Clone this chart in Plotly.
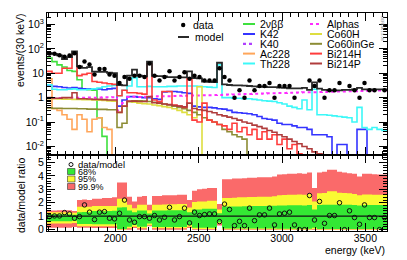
import plotly.graph_objects as go

# ---------------- binning ----------------
E_MIN = 1590
BIN_W = 30
N_BINS = 68
E_MAX = E_MIN + BIN_W * N_BINS
edges = [E_MIN + BIN_W * i for i in range(N_BINS + 1)]
centers = [E_MIN + BIN_W * (i + 0.5) for i in range(N_BINS)]

# ---------------- top panel: events / (30 keV) ----------------
model = [66, 62, 54, 38, 46, 78, 19, 16.5, 18, 11.6,
         11.5, 11.5, 10.5, 10, 3.3, 3.2, 8, 14, 8, 7.5,
         30, 7.8, 7.6, 7.4, 7.0, 7.0, 6.8, 6.8, 12, 6.3,
         6.2, 4.6, 4.4, 4.3, 27, 3.5, 3.3, 3.2, 3.2, 3.1,
         3.0, 2.9, 2.8, 2.8, 2.7, 2.7, 2.6, 2.5, 2.4, 2.4,
         2.4, 2.5, 2.1, 4.2, 2.35, 2.1, 2.0, 2.0, 2.0, 2.1,
         2.1, 2.2, 2.5, 2.2, 2.2, 2.2, 2.2, 2.2]

data = [64, 63, 55, 48, 54, 66, 18, 30, 23, 9,
        15, 15, 9, 8, 4, 7, 6, 8, 8, 7,
        25, 8, 5, 7, 12, 5, 7, 11, 6, 8,
        7, 5, 5, 5, 16, 7, 5, 1, 2, 1,
        5, 2, 3, 3, 4, 1, 3, 3, 3, 1,
        0, 0, 5, 3, 5, 1, 2, 2, 4, 0,
        3, 2, 1, 4, 2, 2, 0, 2]

nbb = [42, 30, 22, 18, 13, 12, 5.4, 2.2, 2.1, 2.0,
       0.15, 0.026, 0, 0, 0, 0, 0, 0, 0, 0,
       0, 0, 0, 0, 0, 0, 0, 0, 0, 0,
       0, 0, 0, 0, 0, 0, 0, 0, 0, 0,
       0, 0, 0, 0, 0, 0, 0, 0, 0, 0,
       0, 0, 0, 0, 0, 0, 0, 0, 0, 0,
       0, 0, 0, 0, 0, 0, 0, 0]

k42 = [3.0, 2.9, 2.8, 2.6, 2.5, 2.6, 2.4, 2.3, 2.3, 2.2,
       2.3, 2.1, 2.3, 2.4, 0.45, 0.8, 1.1, 1.1, 1.05, 1.0,
       1.0, 0.9, 0.85, 1.7, 1.8, 1.8, 1.7, 1.6, 1.5, 0.45,
       0.42, 0.4, 0.4, 0.38, 0.35, 0.34, 0.3, 0.25, 0.24, 0.23,
       0.22, 0.2, 0.17, 0.14, 0.13, 0.12, 0.09, 0.08, 0.08, 0.07,
       0.06, 0.06, 0.05, 0.03, 0.03, 0.03, 0.025, 0, 0.012, 0.012,
       0, 0, 0.05, 0.05, 0, 0, 0, 0]

k40 = [0.003, 0.002, 0.002, 0.001, 0, 0, 0, 0, 0, 0,
       0, 0, 0, 0, 0, 0, 0, 0, 0, 0,
       0, 0, 0, 0, 0, 0, 0, 0, 0, 0,
       0, 0, 0, 0, 0, 0, 0, 0, 0, 0,
       0, 0, 0, 0, 0, 0, 0, 0, 0, 0,
       0, 0, 0, 0, 0, 0, 0, 0, 0, 0,
       0, 0, 0, 0, 0, 0, 0, 0]

ac228 = [6, 0.35, 0.3, 0.2, 0.13, 0.05, 0.2, 0.13, 0.04, 0.13,
         0.15, 0.06, 0.05, 0, 0, 0, 0, 0, 0, 0,
         0, 0, 0, 0, 0, 0, 0, 0, 0, 0,
         0, 0, 0, 0, 0, 0, 0, 0, 0, 0,
         0, 0, 0, 0, 0, 0, 0, 0, 0, 0,
         0, 0, 0, 0, 0, 0, 0, 0, 0, 0,
         0, 0, 0, 0, 0, 0, 0, 0]

th228 = [3.4, 2.2, 2.1, 2.1, 2.2, 2.3, 2.1, 2.1, 2.2, 2.3,
         2.5, 2.8, 3.0, 3.2, 1.2, 2.0, 3.0, 6.5, 2.8, 2.8,
         2.9, 2.8, 2.8, 2.8, 2.9, 2.9, 3.0, 3.0, 3.0, 3.0,
         2.9, 2.8, 2.7, 2.6, 22, 1.0, 1.0, 0.95, 0.95, 0.9,
         0.9, 0.85, 0.8, 0.75, 0.72, 0.7, 0.62, 0.55, 0.45, 0.4,
         0.35, 0.8, 0.32, 2.2, 0.2, 0.2, 0.19, 0.18, 0.17, 0.16,
         0.15, 0.1, 0.4, 0.06, 0.05, 0.06, 0.05, 0.045]

alphas = [0.95, 0.94, 0.96, 0.97, 0.97, 0.99, 1.0, 0.99, 1.01, 1.0,
          1.02, 1.03, 1.03, 1.05, 0.3, 0.6, 1.06, 1.08, 1.07, 1.1,
          1.1, 1.12, 1.13, 1.15, 1.15, 1.17, 1.19, 1.2, 1.21, 1.22,
          1.24, 1.25, 1.27, 1.28, 1.3, 1.33, 1.34, 1.36, 1.37, 1.4,
          1.42, 1.44, 1.45, 1.48, 1.5, 1.52, 1.55, 1.56, 1.58, 1.6,
          1.62, 1.65, 1.66, 1.68, 1.7, 1.72, 1.75, 1.76, 1.78, 1.8,
          1.82, 1.84, 1.86, 1.88, 1.9, 1.92, 1.95, 1.96]

co60h = [0.9, 0.9, 0.88, 0.87, 0.86, 0.85, 0.84, 0.83, 0.82, 0.8,
         0.78, 0.76, 0.74, 0.72, 0.25, 0.45, 0.68, 0.65, 0.6, 0.57,
         0.55, 0.5, 0.47, 0.43, 0.4, 0.35, 0.3, 0.25, 0.2, 0.15,
         2.8, 0, 0, 0, 0, 0, 0, 0, 0, 0,
         0, 0, 0, 0, 0, 0, 0, 0, 0, 0,
         0, 0, 0, 0, 0, 0, 0, 0, 0, 0,
         0, 0, 0, 0, 0, 0, 0, 0]

co60ge = [0.38, 0.37, 0.37, 0.36, 0.36, 0.36, 0.35, 0.35, 0.34, 0.34,
          0.33, 0.33, 0.32, 0.32, 0.06, 0.09, 0.7, 0.75, 0.75, 0.72,
          0.7, 0.65, 0.6, 0.55, 0.5, 0.45, 0.4, 0.35, 0.3, 0.25,
          0.2, 0.15, 0.12, 0.1, 0.08, 0.05, 0.04, 0.03, 0.025, 0.02,
          0, 0, 0, 0, 0, 0, 0, 0, 0, 0,
          0, 0, 0, 0, 0, 0, 0, 0, 0, 0,
          0, 0, 0, 0, 0, 0, 0, 0]

bi214h = [12, 10, 10, 16, 16, 62, 8, 9, 10, 4.6,
          4.3, 4.0, 3.7, 3.5, 1.2, 2.0, 1.6, 1.6, 1.5, 1.4,
          24, 0.8, 0.7, 1.8, 1.8, 0.5, 0.45, 0.4, 6, 0.12,
          0.1, 0.6, 0.12, 0.1, 0.08, 0.07, 0.05, 0.09, 0.04, 0.06,
          0.03, 0.05, 0.02, 0.04, 0.02, 0.03, 0.012, 0.02, 0.008, 0.012,
          0.005, 0.003, 0, 0, 0, 0, 0, 0, 0, 0,
          0, 0, 0, 0, 0, 0, 0, 0]

bi214p = [1.0, 0.95, 0.95, 1.0, 1.0, 1.6, 0.9, 0.9, 0.88, 0.85,
          0.85, 0.83, 0.8, 0.8, 0.25, 0.45, 0.72, 0.72, 0.7, 0.7,
          1.1, 0.62, 0.6, 0.55, 0.52, 0.48, 0.45, 0.42, 0.6, 0.36,
          0.32, 0.3, 0.27, 0.24, 0.2, 0.18, 0.16, 0.14, 0.12, 0.1,
          0.09, 0.075, 0.065, 0.055, 0.045, 0.038, 0.03, 0.025, 0.02, 0.016,
          0.013, 0.01, 0.008, 0.006, 0.005, 0.004, 0.003, 0, 0, 0,
          0, 0, 0, 0, 0, 0, 0, 0]

# ---------------- bottom panel: data/model ratio ----------------
ratio = [0.97, 1.02, 1.02, 1.27, 1.17, 0.85, 0.97, 1.84, 1.3, 0.75,
         1.3, 1.34, 0.85, 0.8, 1.22, 2.2, 0.72, 0.55, 0.97, 0.97,
         0.85, 1.05, 0.72, 0.92, 1.66, 0.72, 0.97, 1.6, 0.5, 1.3,
         1.05, 1.12, 1.17, 1.17, 0.6, 1.9, 1.5, 0.3, 0.62, 0.3,
         1.6, 0.67, 1.1, 1.1, 1.6, 0.35, 1.17, 1.22, 1.3, 0.35,
         0, 0, 2.54, 0.72, 2.1, 0.47, 1.05, 1.05, 2.0, 0,
         1.4, 0.9, 0.4, 1.84, 0.9, 0.9, 0, 0.9]

g_hi = [1.14, 1.14, 1.15, 1.14, 1.14, 1.11, 1.3, 1.32, 1.3, 1.38,
        1.38, 1.37, 1.38, 1.4, 1.65, 1.66, 1.42, 1.3, 1.42, 1.43,
        1.2, 1.42, 1.43, 1.43, 1.44, 1.44, 1.45, 1.45, 1.3, 1.5,
        1.5, 1.55, 1.56, 1.56, 1.22, 1.72, 1.72, 1.73, 1.73, 1.74,
        1.74, 1.75, 1.76, 1.76, 1.77, 1.77, 1.8, 1.8, 1.81, 1.82,
        1.82, 1.8, 1.84, 1.5, 1.84, 1.85, 1.86, 1.86, 1.86, 1.85,
        1.85, 1.84, 1.8, 1.84, 1.84, 1.84, 1.84, 1.84]
g_lo = [0.62, 0.62, 0.62, 0.62, 0.62, 0.66, 0.42, 0.42, 0.42, 0.4,
        0.4, 0.4, 0.4, 0.4, 0.05, 0.05, 0.22, 0.35, 0.22, 0.22,
        0.45, 0.2, 0.2, 0.2, 0.2, 0.2, 0.2, 0.2, 0.35, 0.15,
        0.15, 0.15, 0.15, 0.15, 0.55, 0.08, 0.08, 0.08, 0.08, 0.08,
        0.08, 0.08, 0.08, 0.08, 0.08, 0.08, 0.06, 0.06, 0.06, 0.06,
        0.06, 0.06, 0.06, 0.15, 0.05, 0.05, 0.05, 0.05, 0.05, 0.05,
        0.05, 0.05, 0.05, 0.05, 0.05, 0.05, 0.05, 0.05]
y_hi = [1.3, 1.3, 1.3, 1.3, 1.3, 1.25, 1.7, 1.7, 1.7, 1.75,
        1.75, 1.75, 1.75, 1.75, 2.3, 2.3, 1.85, 1.6, 1.85, 1.85,
        1.45, 1.85, 1.86, 1.87, 1.88, 1.88, 1.9, 1.9, 1.65, 2.05,
        2.1, 2.1, 2.15, 2.15, 1.5, 2.35, 2.35, 2.38, 2.4, 2.4,
        2.42, 2.42, 2.45, 2.45, 2.45, 2.48, 2.55, 2.58, 2.6, 2.6,
        2.62, 2.6, 2.65, 2.1, 2.7, 2.72, 2.85, 2.85, 2.75, 2.72,
        2.7, 2.65, 2.55, 2.62, 2.62, 2.6, 2.6, 2.6]
y_lo = [0.45, 0.45, 0.45, 0.45, 0.45, 0.5, 0.25, 0.25, 0.25, 0.25,
        0.25, 0.25, 0.25, 0.25, 0.02, 0.02, 0.1, 0.22, 0.1, 0.1,
        0.32, 0.1, 0.1, 0.1, 0.1, 0.1, 0.1, 0.1, 0.22, 0.05,
        0.05, 0.05, 0.05, 0.05, 0.45, 0.03, 0.03, 0.03, 0.03, 0.03,
        0.03, 0.03, 0.03, 0.03, 0.03, 0.03, 0.02, 0.02, 0.02, 0.02,
        0.02, 0.02, 0.02, 0.05, 0.02, 0.02, 0.02, 0.02, 0.02, 0.02,
        0.02, 0.02, 0.02, 0.02, 0.02, 0.02, 0.02, 0.02]
r_hi = [1.43, 1.43, 1.45, 1.44, 1.44, 1.38, 2.2, 2.25, 2.2, 2.3,
        2.3, 2.35, 2.35, 2.4, 3.5, 3.5, 2.45, 2.1, 2.45, 2.5,
        1.85, 2.5, 2.5, 2.55, 2.55, 2.55, 2.6, 2.6, 2.2, 2.9,
        3.0, 3.05, 3.1, 3.1, 1.9, 3.75, 3.75, 3.8, 3.8, 3.82,
        3.85, 3.85, 3.9, 3.9, 3.9, 3.95, 4.1, 4.12, 4.15, 4.15,
        4.2, 4.15, 4.25, 3.1, 4.25, 4.3, 4.45, 4.45, 4.3, 4.25,
        4.2, 4.15, 3.95, 4.15, 4.15, 4.12, 4.1, 4.1]
r_lo = [0.15, 0.15, 0.15, 0.15, 0.15, 0.2, 0.15, 0.15, 0.15, 0.13,
        0.13, 0.13, 0.13, 0.13, 0, 0, 0, 0.12, 0, 0,
        0.25, 0, 0, 0, 0, 0, 0, 0, 0.12, 0,
        0, 0, 0, 0, 0.3, 0, 0, 0, 0, 0,
        0, 0, 0, 0, 0, 0, 0, 0, 0, 0,
        0, 0, 0, 0, 0, 0, 0, 0, 0, 0,
        0, 0, 0, 0, 0, 0, 0, 0]

# ---------------- ticks ----------------
x_tickvals = [2000, 2500, 3000, 3500]
x_ticktext = ["2000", "2500", "3000", "3500"]
y_tickvals = [0.01, 0.1, 1, 10, 100, 1000]
y_ticktext = ["10<sup>-2</sup>", "10<sup>-1</sup>", "1", "10", "10<sup>2</sup>", "10<sup>3</sup>"]
r_tickvals = [0, 1, 2, 3, 4, 5]
r_ticktext = ["0", "1", "2", "3", "4", "5"]

components = [
    ("2νββ", nbb, "#3ee03e", "solid"),
    ("K42", k42, "#3434ff", "solid"),
    ("K40", k40, "#b040ff", "dot"),
    ("Ac228", ac228, "#ffa65a", "solid"),
    ("Th228", th228, "#3cf8f8", "solid"),
    ("Alphas", alphas, "#ff2cff", "dot"),
    ("Co60H", co60h, "#dede40", "solid"),
    ("Co60inGe", co60ge, "#8c8c34", "solid"),
    ("Bi214H", bi214h, "#ff3c3c", "solid"),
    ("Bi214P", bi214p, "#b03c3c", "solid"),
]

# ---------------- geometry helpers (pixel -> paper) ----------------
W, H = 407, 260
ML, MR, MT, MB = 47, 20, 13, 29
PW = W - ML - MR
PH = H - MT - MB
SPLIT = 76 / PH


def px(x):
    return (x - ML) / PW


def py(y):
    return (H - MB - y) / PH


FLOOR = 1e-4


def hist_y(vals):
    v = [a if a > 0 else FLOOR for a in vals]
    return v + [v[-1]]


FONT = "Liberation Sans, Arial, Helvetica, sans-serif"

fig = go.Figure()

# ---- ratio bands ----
def add_band(lo, hi, color):
    fig.add_trace(go.Scatter(x=edges, y=list(lo) + [lo[-1]], mode="lines",
                             line=dict(width=0, shape="hv"), xaxis="x2", yaxis="y2",
                             showlegend=False, hoverinfo="skip"))
    fig.add_trace(go.Scatter(x=edges, y=list(hi) + [hi[-1]], mode="lines",
                             line=dict(width=0, shape="hv"), fill="tonexty", fillcolor=color,
                             xaxis="x2", yaxis="y2", showlegend=False, hoverinfo="skip"))


add_band(r_lo, r_hi, "#fa6a6a")
add_band(y_lo, y_hi, "#fafa32")
add_band(g_lo, g_hi, "#34e834")

fig.add_trace(go.Scatter(x=centers, y=ratio, mode="markers", xaxis="x2", yaxis="y2",
                         marker=dict(symbol="circle-open", size=4.5, color="#111111",
                                     line=dict(width=1, color="#111111")),
                         showlegend=False, hoverinfo="skip"))

# ---- top components ----
for name, vals, color, dash in components:
    fig.add_trace(go.Scatter(x=edges, y=hist_y(vals), mode="lines", name=name,
                             line=dict(color=color, width=1.6 if dash == "solid" else 2.0,
                                       dash=dash, shape="hv"),
                             xaxis="x", yaxis="y", showlegend=False, hoverinfo="skip"))

fig.add_trace(go.Scatter(x=edges, y=hist_y(model), mode="lines", name="model",
                         line=dict(color="#2a2a2a", width=1.8, shape="hv"),
                         xaxis="x", yaxis="y", showlegend=False, hoverinfo="skip"))

dx = [c for c, d in zip(centers, data) if d > 0]
dy = [d for d in data if d > 0]
fig.add_trace(go.Scatter(x=dx, y=dy, mode="markers", name="data",
                         marker=dict(symbol="circle", size=4.5, color="black"),
                         xaxis="x", yaxis="y", showlegend=False, hoverinfo="skip"))

# ---------------- shapes & annotations ----------------
shapes = []
annotations = []


def text(x, y, s, size=10.5, xanchor="left", angle=0, color="black"):
    annotations.append(dict(x=px(x), y=py(y), xref="paper", yref="paper", text=s,
                            showarrow=False, xanchor=xanchor, yanchor="middle",
                            textangle=angle, font=dict(family=FONT, size=size, color=color)))


def seg(x0, x1, y, color, dash="solid", width=2):
    shapes.append(dict(type="line", xref="paper", yref="paper", x0=px(x0), x1=px(x1),
                       y0=py(y), y1=py(y), line=dict(color=color, width=width, dash=dash)))


# ratio reference line at 1
shapes.append(dict(type="line", xref="x2 domain", yref="y2", x0=0, x1=1, y0=1, y1=1,
                   line=dict(color="#111111", width=1.2), layer="above"))

# legend: data / model
shapes.append(dict(type="circle", xref="paper", yref="paper", x0=px(181), x1=px(185.4),
                   y0=py(27.2), y1=py(22.8), fillcolor="black", line=dict(color="black", width=0)))
text(191, 25, "data")
seg(178, 189, 37, "#2a2a2a", width=2)
text(193, 37, "model")

col_y = [24, 34, 43.8, 53.6, 63.5]
for k, (name, vals, color, dash) in enumerate(components[:5]):
    seg(243, 255, col_y[k], color, dash, 2 if dash == "solid" else 2.2)
    text(258, col_y[k], name)
for k, (name, vals, color, dash) in enumerate(components[5:]):
    seg(310, 322, col_y[k], color, dash, 2 if dash == "solid" else 2.2)
    text(325, col_y[k], name)

# legend: ratio panel
shapes.append(dict(type="circle", xref="paper", yref="paper", x0=px(69), x1=px(73),
                   y0=py(166.5), y1=py(162.5), line=dict(color="#111111", width=1)))
text(76, 164.5, "data/model", size=9.5)
for (y0, y1, c, lab) in [(168.5, 174.5, "#34e834", "68%"), (176, 182, "#fafa32", "95%"),
                         (183.5, 189.5, "#fa6a6a", "99.9%")]:
    shapes.append(dict(type="rect", xref="paper", yref="paper", x0=px(67.5), x1=px(75),
                       y0=py(y1), y1=py(y0), fillcolor=c, line=dict(color="#333333", width=0.6)))
    text(76, (y0 + y1) / 2, lab, size=9)

# axis titles
text(20, 50, "events/(30 keV)", size=10.5, xanchor="center", angle=-90)
text(21, 195, "data/model ratio", size=10.5, xanchor="center", angle=-90)
annotations.append(dict(x=px(387), y=py(249.5), xref="paper", yref="paper", text="energy (keV)",
                        showarrow=False, xanchor="right", yanchor="middle",
                        font=dict(family=FONT, size=10.5, color="black")))
# tiny plot tag
text(382.5, 28, "GERDA 13-08", size=4, xanchor="center", angle=90, color="#888888")

y_minor = [k * 10 ** d for d in range(-3, 4) for k in range(2, 10)]

axis_common = dict(showline=True, linecolor="black", linewidth=1, mirror="allticks",
                   ticks="inside", ticklen=8, tickwidth=1, tickcolor="black",
                   showgrid=False, zeroline=False, automargin=False,
                   tickfont=dict(family=FONT, size=10.5, color="black"))

fig.update_layout(
    width=W, height=H,
    margin=dict(l=ML, r=MR, t=MT, b=MB, autoexpand=False),
    paper_bgcolor="white", plot_bgcolor="white",
    showlegend=False,
    xaxis=dict(domain=[0, 1], anchor="y", range=[E_MIN, E_MAX], tickmode="array",
               tickvals=x_tickvals, ticktext=x_ticktext, showticklabels=False,
               minor=dict(ticks="inside", ticklen=4, tickmode="linear", tick0=0, dtick=50,
                          showgrid=False, tickcolor="black"),
               **axis_common),
    yaxis=dict(domain=[SPLIT, 1], anchor="x", type="log", range=[-2.35, 3.47],
               tickmode="array", tickvals=y_tickvals, ticktext=y_ticktext,
               minor=dict(ticks="inside", ticklen=4, tickmode="array", tickvals=y_minor,
                          showgrid=False, tickcolor="black"),
               **axis_common),
    xaxis2=dict(domain=[0, 1], anchor="y2", range=[E_MIN, E_MAX], tickmode="array",
                tickvals=x_tickvals, ticktext=x_ticktext, matches="x",
                ticklabelstandoff=-3,
                minor=dict(ticks="inside", ticklen=4, tickmode="linear", tick0=0, dtick=50,
                           showgrid=False, tickcolor="black"),
                **axis_common),
    yaxis2=dict(domain=[0, SPLIT], anchor="x2", range=[-0.1, 5.55], tickmode="array",
                tickvals=r_tickvals, ticktext=r_ticktext,
                minor=dict(ticks="inside", ticklen=4, tickmode="linear", tick0=0, dtick=0.2,
                           showgrid=False, tickcolor="black"),
                **axis_common),
    shapes=shapes,
    annotations=annotations,
)

fig.write_html("out.html", config={"displayModeBar": False},
               post_script="document.body.style.margin='0px';")
